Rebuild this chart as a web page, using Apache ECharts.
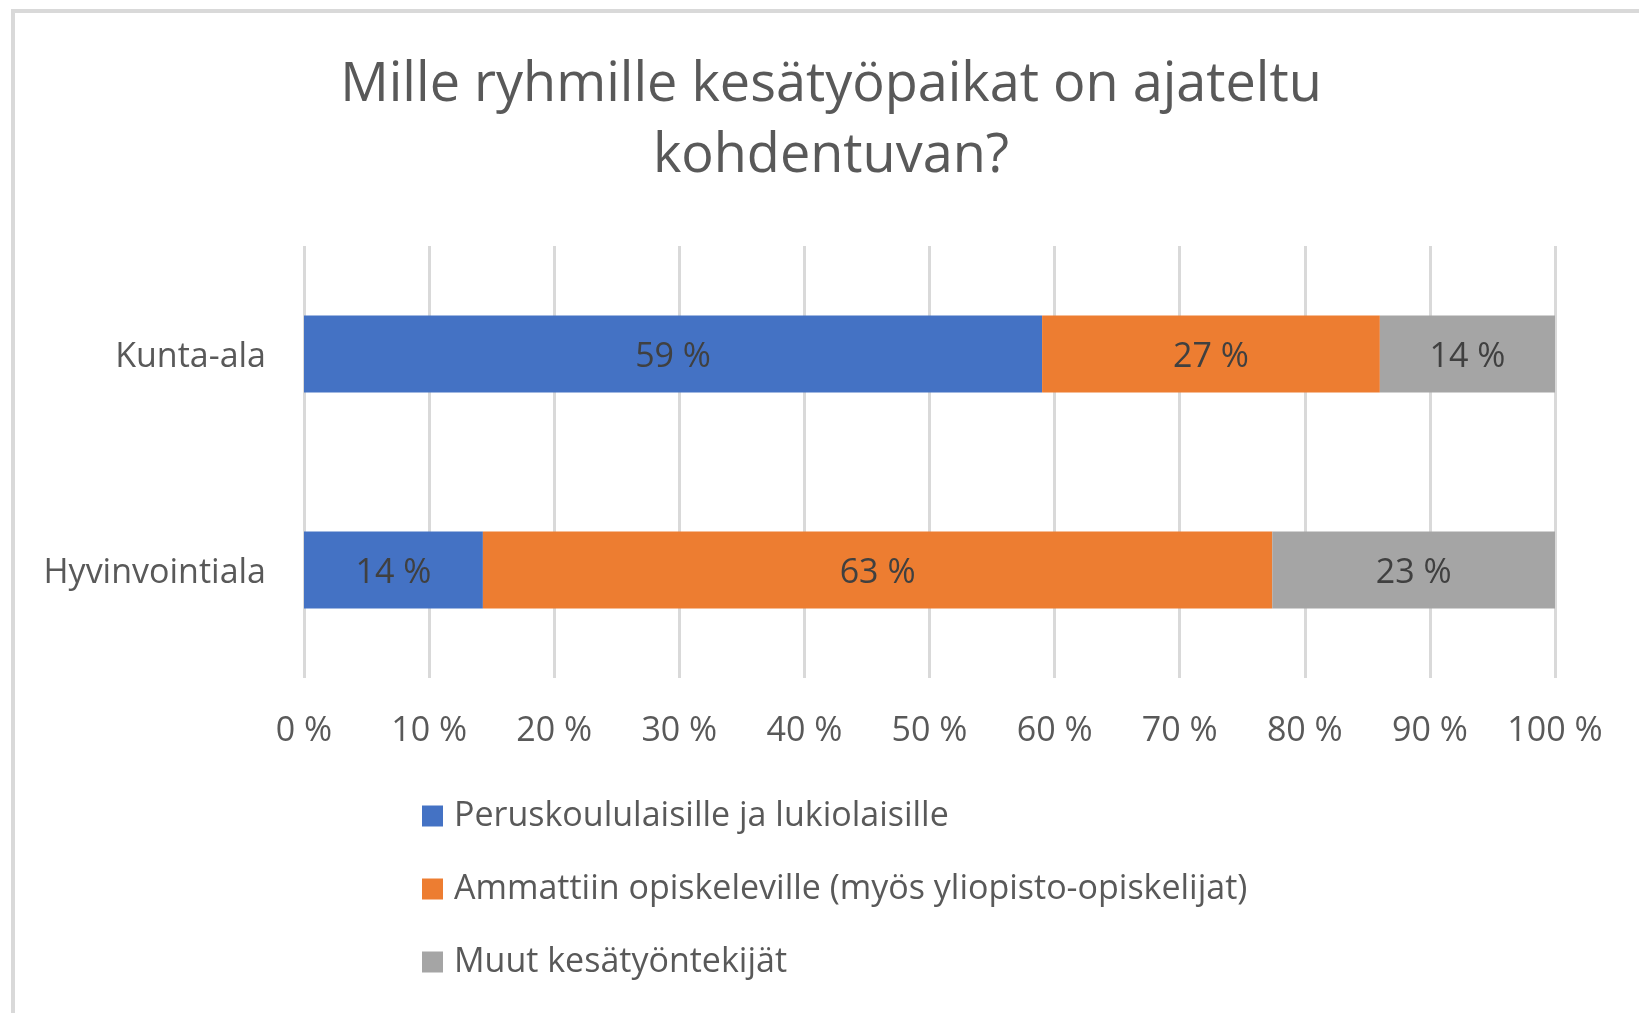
<!DOCTYPE html>
<html>
<head>
<meta charset="utf-8">
<title>Mille ryhmille kesätyöpaikat on ajateltu kohdentuvan?</title>
<script src="https://cdn.jsdelivr.net/npm/echarts@6/dist/echarts.min.js"></script>
<style>
  html, body { margin: 0; padding: 0; background: #fff; }
  #chart { width: 1639px; height: 1013px; }
</style>
</head>
<body>
<div id="chart"></div>
<script>
var categories = ["Kunta-ala", "Hyvinvointiala"];
var seriesNames = [
  "Peruskoululaisille ja lukiolaisille",
  "Ammattiin opiskeleville (myös yliopisto-opiskelijat)",
  "Muut kesätyöntekijät"
];
var peruskoulu = [59, 14.3];
var ammatti = [27, 63.1];
var muut = [14, 22.6];
var colors = ["#4472C4", "#ED7D31", "#A5A5A5"];

var font = "'Open Sans', 'Noto Sans', sans-serif";

function makeSeries(name, data, color) {
  return {
    name: name,
    type: "bar",
    stack: "total",
    data: data,
    barWidth: 77,
    itemStyle: { color: color },
    label: {
      show: true,
      position: "inside",
      offset: [0, 3],
      color: "#404040",
      fontFamily: font,
      fontSize: 34,
      formatter: function(p) {
        return Math.round(p.value) + " %";
      }
    }
  };
}

var chart = echarts.init(document.getElementById("chart"));
chart.setOption({
  animation: false,
  backgroundColor: "#fff",
  title: {
    text: "Mille ryhmille kesätyöpaikat on ajateltu\nkohdentuvan?",
    left: 831,
    top: 50,
    textAlign: "center",
    padding: 0,
    textStyle: {
      color: "#595959",
      fontFamily: font,
      fontWeight: "normal",
      fontSize: 54,
      lineHeight: 71
    }
  },
  // frame of the chart area (left and top edge only are visible)
  graphic: [
    { type: "rect", shape: { x: 11, y: 9, width: 4, height: 1004 }, style: { fill: "#d9d9d9" } },
    { type: "rect", shape: { x: 11, y: 9, width: 1628, height: 4 }, style: { fill: "#d9d9d9" } }
  ],
  legend: {
    orient: "vertical",
    left: 422,
    top: 799,
    padding: 0,
    itemWidth: 21,
    itemHeight: 21,
    itemGap: 39,
    icon: "rect",
    data: seriesNames,
    textStyle: {
      color: "#595959",
      fontFamily: font,
      fontSize: 34,
      lineHeight: 34,
      padding: [0, 0, 0, 6]
    }
  },
  grid: {
    left: 304,
    right: 84,
    top: 246,
    bottom: 335
  },
  xAxis: {
    type: "value",
    min: 0,
    max: 100,
    interval: 10,
    axisLine: { show: false },
    axisTick: { show: false },
    splitLine: {
      lineStyle: { color: "#d9d9d9", width: 3 }
    },
    axisLabel: {
      formatter: "{value} %",
      color: "#595959",
      fontFamily: font,
      fontSize: 34,
      lineHeight: 34,
      margin: 36
    }
  },
  yAxis: {
    type: "category",
    data: categories,
    inverse: true,
    axisLine: { show: false },
    axisTick: { show: false },
    axisLabel: {
      margin: 38,
      formatter: "{c|{value}}",
      rich: {
        c: {
          color: "#595959",
          fontFamily: font,
          fontSize: 34,
          padding: [6, 0, 0, 0]
        }
      }
    }
  },
  series: [
    makeSeries(seriesNames[0], peruskoulu, colors[0]),
    makeSeries(seriesNames[1], ammatti, colors[1]),
    makeSeries(seriesNames[2], muut, colors[2])
  ]
});
</script>
</body>
</html>
